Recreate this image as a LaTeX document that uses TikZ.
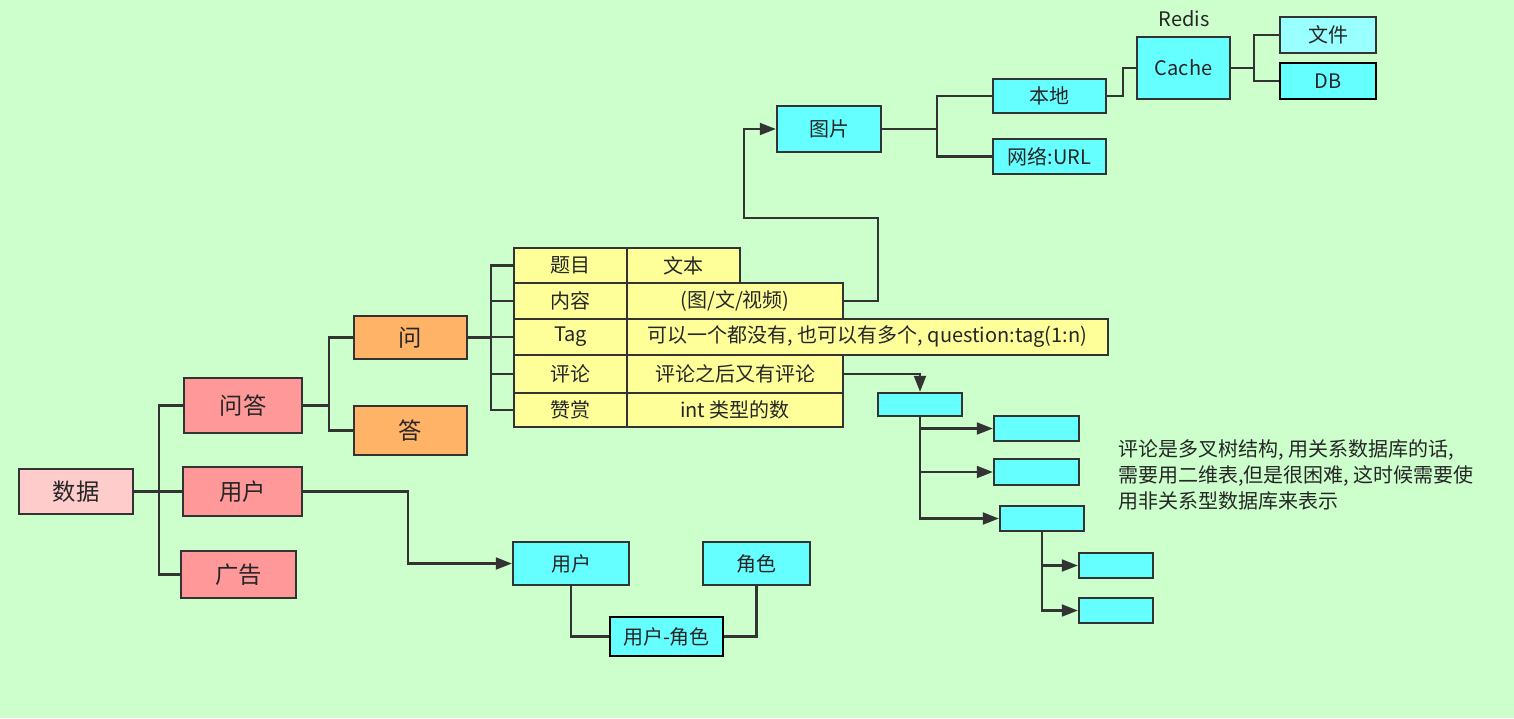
\documentclass[tikz,border=0pt]{standalone}
\usepackage{fontspec}
\setmainfont{Noto Sans CJK SC}
\usetikzlibrary{arrows.meta}

\definecolor{bgcol}{HTML}{CCFFCC}
\definecolor{rootcol}{HTML}{FFCCCC}
\definecolor{redcol}{HTML}{FF9999}
\definecolor{orangecol}{HTML}{FFB366}
\definecolor{yellowcol}{HTML}{FFFF99}
\definecolor{cyancol}{HTML}{66FFFF}
\definecolor{lightcyan}{HTML}{99FFFF}
\definecolor{linecol}{HTML}{333333}
\definecolor{textcol}{HTML}{262626}

% box from its corner coordinates: style, name, x1, y1, x2, y2, text
\newcommand\boxnode[7]{%
  \pgfmathsetmacro\bxw{(#5-#3)*0.75}%
  \pgfmathsetmacro\bxh{(#6-#4)*0.75}%
  \node[#1, minimum width=\bxw pt, minimum height=\bxh pt] (#2) at ({(#3+#5)/2},{(#4+#6)/2}) {#7};%
}

\tikzset{
  basebox/.style={draw=linecol, line width=1.8pt, inner sep=0pt, text=textcol},
  bigtxt/.style={font=\fontsize{17.5}{21}\selectfont},
  smalltxt/.style={font=\fontsize{15}{18}\selectfont},
  rootbox/.style={basebox, fill=rootcol, bigtxt},
  redbox/.style={basebox, fill=redcol, bigtxt},
  orangebox/.style={basebox, fill=orangecol, bigtxt},
  cellbox/.style={basebox, fill=yellowcol, smalltxt},
  cyanbox/.style={basebox, fill=cyancol, smalltxt},
  filebox/.style={basebox, fill=lightcyan, smalltxt},
  strongbox/.style={basebox, draw=black, line width=2.2pt, fill=cyancol, smalltxt},
  link/.style={draw=linecol, line width=1.6pt},
  arrowlink/.style={link, -{Triangle[length=12pt, width=9pt]}},
}

\begin{document}
\begin{tikzpicture}[x=0.75pt, y=-0.75pt]
  \fill[bgcol] (0,0) rectangle (1514,718);
  \useasboundingbox (0,0) rectangle (1514,718);

  % main branches
  \boxnode{rootbox}{data}{19}{469}{133}{514}{数据}
  \boxnode{redbox}{qa}{184}{378}{302}{433}{问答}
  \boxnode{redbox}{user}{183}{467}{302}{516}{用户}
  \boxnode{redbox}{ad}{181}{551}{296}{598}{广告}
  \boxnode{orangebox}{ask}{354}{316}{467}{359}{问}
  \boxnode{orangebox}{answer}{354}{406}{467}{455}{答}

  % question fields
  \boxnode{cellbox}{r1a}{514}{248}{627}{283}{题目}
  \boxnode{cellbox}{r1b}{627}{248}{740}{283}{文本}
  \boxnode{cellbox}{r2a}{514}{283}{627}{319}{内容}
  \boxnode{cellbox}{r2b}{627}{283}{843}{319}{(图/文/视频)}
  \boxnode{cellbox}{r3a}{514}{319}{627}{355}{Tag}
  \boxnode{cellbox}{r3b}{627}{319}{1108}{355}{可以一个都没有, 也可以有多个, question:tag(1:n)}
  \boxnode{cellbox}{r4a}{514}{355}{627}{393}{评论}
  \boxnode{cellbox}{r4b}{627}{355}{843}{393}{评论之后又有评论}
  \boxnode{cellbox}{r5a}{514}{393}{627}{427}{赞赏}
  \boxnode{cellbox}{r5b}{627}{393}{843}{427}{int 类型的数}

  % image storage
  \boxnode{cyanbox}{pic}{777}{106}{881}{152}{图片}
  \boxnode{cyanbox}{local}{993}{79}{1106}{113}{本地}
  \boxnode{cyanbox}{net}{993}{139}{1106}{174}{网络:URL}
  \boxnode{cyanbox}{cache}{1137}{37}{1230}{99}{Cache}
  \node[smalltxt, text=textcol] (redis) at (1184,19) {Redis};
  \boxnode{filebox}{file}{1280}{17}{1376}{53}{文件}
  \boxnode{strongbox}{db}{1280}{63}{1376}{99}{DB}

  % user / role
  \boxnode{cyanbox}{ub}{513}{542}{629}{585}{用户}
  \boxnode{cyanbox}{role}{703}{542}{810}{585}{角色}
  \boxnode{strongbox}{ur}{610}{617}{723}{656}{用户-角色}

  % comment tree
  \boxnode{cyanbox}{croot}{878}{393}{962}{416}{}
  \boxnode{cyanbox}{c1}{994}{416}{1079}{441}{}
  \boxnode{cyanbox}{c2}{994}{459}{1079}{485}{}
  \boxnode{cyanbox}{c3}{1000}{506}{1084}{531}{}
  \boxnode{cyanbox}{c3a}{1079}{553}{1153}{578}{}
  \boxnode{cyanbox}{c3b}{1079}{598}{1153}{623}{}

  \node[anchor=north west, align=left, inner sep=0pt, text=textcol,
        font=\fontsize{15}{19.5}\selectfont] (note) at (1118,439)
    {评论是多叉树结构, 用关系数据库的话,\\需要用二维表,但是很困难, 这时候需要使\\用非关系型数据库来表示};

  % connectors
  \draw[link] (data.east) -- ++(25,0) coordinate (dbus);
  \draw[link] (dbus) |- (qa.west);
  \draw[link] (dbus) |- (user.west);
  \draw[link] (dbus) |- (ad.west);

  \draw[link] (qa.east) -- ++(26,0) coordinate (qbus);
  \draw[link] (qbus) |- (ask.west);
  \draw[link] (qbus) |- (answer.west);

  \draw[link] (ask.east) -- ++(23,0) coordinate (fbus);
  \foreach \r in {r1a,r2a,r3a,r4a,r5a}
    \draw[link] (fbus) |- (\r.west);

  \draw[arrowlink] (r2b.east) -- ++(34,0) |- ++(-134,-83) |- (pic.west);
  \draw[link] (pic.east) -- ++(55,0) coordinate (pbus);
  \draw[link] (pbus) |- (local.west);
  \draw[link] (pbus) |- (net.west);
  \draw[link] (local.east) -- ++(16,0) |- (cache.west);
  \draw[link] (cache.east) -- ++(23,0) coordinate (cbus);
  \draw[link] (cbus) |- (file.west);
  \draw[link] (cbus) |- (db.west);

  \draw[arrowlink] (user.east) -- ++(105,0) |- (ub.west);
  \draw[link] (ub.south) |- (ur.west);
  \draw[link] (role.south) |- (ur.east);

  \draw[arrowlink] (r4b.east) -| (croot.north);
  \draw[arrowlink] (croot.south) |- (c1.west);
  \draw[arrowlink] (croot.south) |- (c2.west);
  \draw[arrowlink] (croot.south) |- (c3.west);
  \draw[arrowlink] (c3.south) |- (c3a.west);
  \draw[arrowlink] (c3.south) |- (c3b.west);
\end{tikzpicture}
\end{document}
